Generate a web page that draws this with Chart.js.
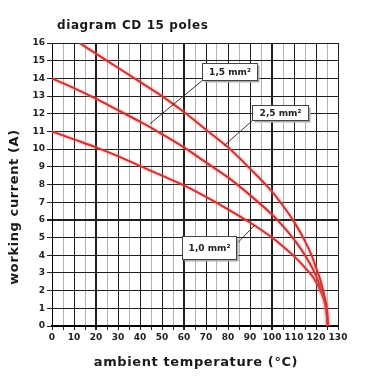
<!DOCTYPE html>
<html><head><meta charset="utf-8">
<script src="https://cdn.jsdelivr.net/npm/chart.js@4/dist/chart.umd.min.js"></script>
<style>html,body{margin:0;padding:0;background:#fff}canvas{display:block}</style>
</head><body>
<canvas id="c" width="380" height="380"></canvas>
<script>
const chartTitle = 'diagram CD 15 poles';
const xTitle = 'ambient temperature (°C)';
const yTitle = 'working current (A)';
const xTickValues = [0,10,20,30,40,50,60,70,80,90,100,110,120,130];
const yTickValues = [0,1,2,3,4,5,6,7,8,9,10,11,12,13,14,15,16];
const seriesNames = ['2,5 mm²', '1,5 mm²', '1,0 mm²'];

const temps25 = [12.5, 20, 30, 40, 50, 60, 70, 80, 90, 100, 105, 110, 115, 118, 120, 122, 124, 125, 125.5];
const amps25  = [16, 15.4, 14.6, 13.8, 13.0, 12.1, 11.1, 10.1, 8.9, 7.6, 6.8, 5.9, 4.8, 4.0, 3.3, 2.6, 1.6, 0.9, 0];

const temps15 = [0, 10, 20, 30, 40, 50, 60, 70, 80, 90, 100, 105, 110, 115, 120, 123, 125, 125.3];
const amps15  = [14, 13.45, 12.85, 12.2, 11.55, 10.85, 10.1, 9.25, 8.4, 7.4, 6.3, 5.65, 4.9, 4.0, 2.85, 1.8, 0.6, 0];

const temps10 = [0, 10, 20, 30, 40, 50, 60, 70, 80, 90, 100, 105, 110, 115, 119, 122, 124, 125, 125.2];
const amps10  = [11, 10.55, 10.1, 9.6, 9.05, 8.5, 7.95, 7.3, 6.6, 5.85, 5.0, 4.5, 3.95, 3.3, 2.7, 2.0, 1.3, 0.5, 0];

const toPts = (xs, ys) => xs.map((x, i) => ({x: x, y: ys[i]}));

// label boxes: [text, boxLeft, boxTop, boxRight, boxBottom, lineFromX, lineFromY, lineToX, lineToY] (data units)
const labelBoxes = [
  [seriesNames[1], 68.0, 14.87, 93.0, 13.92, 69.0, 13.95, 44.5, 11.43],
  [seriesNames[0], 90.8, 12.5, 116.5, 11.66, 91.5, 11.66, 78.3, 10.2],
  [seriesNames[2], 59.1, 5.09, 83.6, 3.79, 83.6, 4.6, 92.3, 5.72]
];

const glow = {
  id: 'glow',
  beforeDatasetDraw(chart) {
    const ctx = chart.ctx; ctx.save();
    ctx.shadowColor = 'rgba(255,120,120,0.8)'; ctx.shadowBlur = 3;
  },
  afterDatasetDraw(chart) { chart.ctx.restore(); }
};

const texts = {
  id: 'texts',
  afterDraw(chart) {
    const ctx = chart.ctx, xs = chart.scales.x, ys = chart.scales.y;
    ctx.save();
    labelBoxes.forEach(b => {
      ctx.strokeStyle = '#333'; ctx.lineWidth = 1;
      ctx.beginPath();
      ctx.moveTo(xs.getPixelForValue(b[5]), ys.getPixelForValue(b[6]));
      ctx.lineTo(xs.getPixelForValue(b[7]), ys.getPixelForValue(b[8]));
      ctx.stroke();
      const l = Math.round(xs.getPixelForValue(b[1])) + 0.5, t = Math.round(ys.getPixelForValue(b[2])) + 0.5;
      const r = Math.round(xs.getPixelForValue(b[3])) + 0.5, bt = Math.round(ys.getPixelForValue(b[4])) + 0.5;
      ctx.fillStyle = '#aaa';
      ctx.fillRect(l + 2, t + 2, r - l, bt - t);
      ctx.fillStyle = '#fff';
      ctx.fillRect(l, t, r - l, bt - t);
      ctx.strokeStyle = '#444';
      ctx.strokeRect(l, t, r - l, bt - t);
      ctx.fillStyle = '#222';
      ctx.font = 'bold 9px "DejaVu Sans"';
      ctx.textAlign = 'center'; ctx.textBaseline = 'middle';
      ctx.fillText(b[0], (l + r) / 2, (t + bt) / 2 + 0.5);
    });
    ctx.fillStyle = '#1a1a1a';
    ctx.letterSpacing = '0.6px';
    ctx.font = 'bold 12px "DejaVu Sans"';
    ctx.textAlign = 'left'; ctx.textBaseline = 'alphabetic';
    ctx.fillText(chartTitle, 57, 29);
    ctx.font = 'bold 13px "DejaVu Sans"';
    ctx.textAlign = 'center'; ctx.textBaseline = 'middle';
    ctx.fillText(xTitle, 196, 363);
    ctx.translate(15, 207); ctx.rotate(-Math.PI / 2);
    ctx.fillText(yTitle, 0, 0);
    ctx.restore();
  }
};

const lineStyle = {borderColor: '#cc3434', borderWidth: 2, pointRadius: 0, fill: false, cubicInterpolationMode: 'monotone'};

new Chart(document.getElementById('c'), {
  type: 'line',
  data: {
    datasets: [
      Object.assign({label: seriesNames[0], data: toPts(temps25, amps25)}, lineStyle),
      Object.assign({label: seriesNames[1], data: toPts(temps15, amps15)}, lineStyle),
      Object.assign({label: seriesNames[2], data: toPts(temps10, amps10)}, lineStyle)
    ]
  },
  options: {
    responsive: false, animation: false, devicePixelRatio: 1,
    layout: {padding: {top: 43, right: 42, left: 0, bottom: 0}},
    plugins: {legend: {display: false}, tooltip: {enabled: false}},
    scales: {
      x: {
        type: 'linear', min: 0, max: 130,
        afterFit(s) { s.height = 54; },
        ticks: {stepSize: 5, autoSkip: false, maxRotation: 0, padding: 2, color: '#222',
          font: {family: 'DejaVu Sans', size: 9, weight: 'bold'},
          callback: v => xTickValues.includes(v) ? String(v) : ''},
        grid: {
          color: c => (c.tick && c.tick.value % 10 === 0) ? '#1e1e1e' : '#b4b4b4',
          lineWidth: c => (c.tick && [20, 60, 100].includes(c.tick.value)) ? 2 : 1,
          tickLength: 4, tickColor: '#222'
        },
        border: {color: '#000', width: 2}
      },
      y: {
        type: 'linear', min: 0, max: 16,
        afterFit(s) { s.width = 52; },
        ticks: {stepSize: 1, autoSkip: false, padding: 2, color: '#222',
          font: {family: 'DejaVu Sans', size: 9, weight: 'bold'},
          callback: v => yTickValues.includes(v) ? String(v) : ''},
        grid: {
          color: '#1e1e1e',
          lineWidth: c => (c.tick && c.tick.value === 6) ? 2 : 1,
          tickLength: 5, tickColor: '#222'
        },
        border: {color: '#000', width: 1}
      }
    }
  },
  plugins: [glow, texts]
});
</script>
</body></html>
